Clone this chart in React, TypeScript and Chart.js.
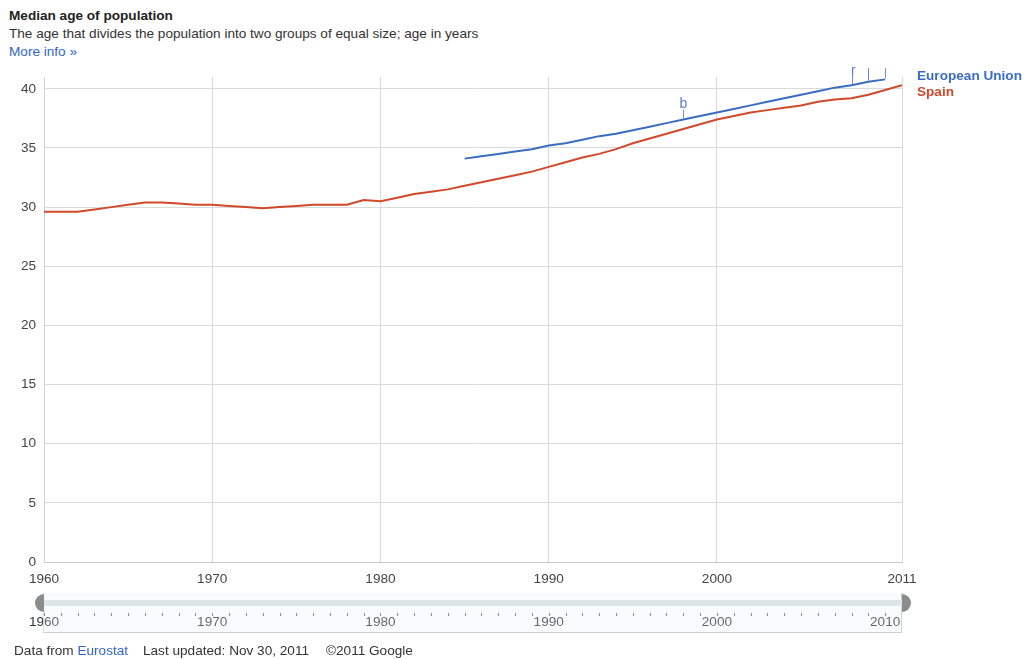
import React, { useEffect, useRef } from "react";
import { Chart, registerables } from "chart.js";

Chart.register(...registerables);

// Median age of population, in years
const spainYears = [
  1960, 1961, 1962, 1963, 1964, 1965, 1966, 1967, 1968, 1969,
  1970, 1971, 1972, 1973, 1974, 1975, 1976, 1977, 1978, 1979,
  1980, 1981, 1982, 1983, 1984, 1985, 1986, 1987, 1988, 1989,
  1990, 1991, 1992, 1993, 1994, 1995, 1996, 1997, 1998, 1999,
  2000, 2001, 2002, 2003, 2004, 2005, 2006, 2007, 2008, 2009,
  2010, 2011,
];
const spainValues = [
  29.6, 29.6, 29.6, 29.8, 30.0, 30.2, 30.4, 30.4, 30.3, 30.2,
  30.2, 30.1, 30.0, 29.9, 30.0, 30.1, 30.2, 30.2, 30.2, 30.6,
  30.5, 30.8, 31.1, 31.3, 31.5, 31.8, 32.1, 32.4, 32.7, 33.0,
  33.4, 33.8, 34.2, 34.5, 34.9, 35.4, 35.8, 36.2, 36.6, 37.0,
  37.4, 37.7, 38.0, 38.2, 38.4, 38.6, 38.9, 39.1, 39.2, 39.5,
  39.9, 40.3,
];

const euYears = [
  1985, 1986, 1987, 1988, 1989, 1990, 1991, 1992, 1993, 1994,
  1995, 1996, 1997, 1998, 1999, 2000, 2001, 2002, 2003, 2004,
  2005, 2006, 2007, 2008, 2009, 2010,
];
const euValues = [
  34.1, 34.3, 34.5, 34.7, 34.9, 35.2, 35.4, 35.7, 36.0, 36.2,
  36.5, 36.8, 37.1, 37.4, 37.7, 38.0, 38.3, 38.6, 38.9, 39.2,
  39.5, 39.8, 40.1, 40.3, 40.6, 40.8,
];

// Footnote flags on the European Union series
const flagYears = [1998, 2008, 2009, 2010];
const flagLetters = ["b", "r", "", ""];

const yTickValues = [0, 5, 10, 15, 20, 25, 30, 35, 40];
const xTickYears = [1960, 1970, 1980, 1990, 2000, 2011];
const sliderLabelYears = [1960, 1970, 1980, 1990, 2000, 2010];

const seriesNames = ["European Union", "Spain"];
const EU_COLOR = "#3a6cc1";
const ES_COLOR = "#d0492a";
const FONT = "'Liberation Sans', Arial, sans-serif";
const FS = 13.6;

const labelsPlugin = {
  id: "sideLabelsAndFlags",
  afterDatasetsDraw(chart: any) {
    const ctx = chart.ctx;
    const xs = chart.scales.x;
    const ys = chart.scales.y;
    ctx.save();

    // series names on the right of the plot
    ctx.font = `bold ${FS}px ${FONT}`;
    ctx.textBaseline = "middle";
    ctx.textAlign = "left";
    const lx = chart.chartArea.right + 15;
    ctx.fillStyle = EU_COLOR;
    ctx.fillText(seriesNames[0], lx, chart.chartArea.top - 1);
    ctx.fillStyle = ES_COLOR;
    ctx.fillText(seriesNames[1], lx, chart.chartArea.top + 15);

    // footnote flags
    ctx.beginPath();
    ctx.rect(0, chart.chartArea.top - 11, chart.width, chart.height);
    ctx.clip();
    ctx.strokeStyle = "#6d8fcf";
    ctx.fillStyle = "#5b80c6";
    ctx.lineWidth = 1;
    flagYears.forEach((yr, i) => {
      const idx = euYears.indexOf(yr);
      if (idx < 0) return;
      const px = Math.round(xs.getPixelForValue(yr)) + 0.5;
      const py = ys.getPixelForValue(euValues[idx]);
      const top = i === 0 ? py - 10 : chart.chartArea.top - 9;
      ctx.beginPath();
      ctx.moveTo(px, i === 1 ? top + 3 : top);
      ctx.lineTo(px, py - 1);
      ctx.stroke();
      const letter = flagLetters[i];
      if (letter) {
        ctx.font = `14px ${FONT}`;
        ctx.textBaseline = "alphabetic";
        if (i === 0) {
          ctx.textAlign = "center";
          ctx.fillText(letter, px, top - 2);
        } else {
          ctx.textAlign = "left";
          ctx.fillText(letter, px - 1.5, top + 7);
        }
      }
    });
    ctx.restore();
  },
};

function ChartCanvas() {
  const ref = useRef<HTMLCanvasElement | null>(null);
  useEffect(() => {
    if (!ref.current) return;
    const chart = new Chart(ref.current, {
      type: "line",
      data: {
        datasets: [
          {
            label: seriesNames[0],
            data: euYears.map((x, i) => ({ x, y: euValues[i] })),
            borderColor: EU_COLOR,
            borderWidth: 2,
            pointRadius: 0,
            tension: 0,
          },
          {
            label: seriesNames[1],
            data: spainYears.map((x, i) => ({ x, y: spainValues[i] })),
            borderColor: ES_COLOR,
            borderWidth: 2,
            pointRadius: 0,
            tension: 0,
          },
        ],
      },
      options: {
        responsive: false,
        animation: false,
        layout: { padding: { top: 77, right: 124, left: 0, bottom: 0 } },
        plugins: { legend: { display: false }, tooltip: { enabled: false } },
        scales: {
          x: {
            type: "linear",
            min: 1960,
            max: 2011,
            afterBuildTicks: (s: any) => {
              s.ticks = xTickYears.map((v) => ({ value: v }));
            },
            afterFit: (s: any) => {
              s.height = 97;
            },
            grid: { color: "#dadada", drawTicks: false },
            border: { color: "#c8c8c8" },
            ticks: {
              padding: 9,
              color: "#444",
              font: { family: FONT, size: FS },
              maxRotation: 0,
              autoSkip: false,
              callback: (v: any) => String(v),
            },
          },
          y: {
            min: 0,
            max: 41,
            afterBuildTicks: (s: any) => {
              s.ticks = yTickValues.map((v) => ({ value: v }));
            },
            afterFit: (s: any) => {
              s.width = 44;
            },
            grid: { color: "#dadada", drawTicks: false },
            border: { color: "#d0d0d0" },
            ticks: {
              padding: 8,
              color: "#444",
              font: { family: FONT, size: FS },
            },
          },
        },
      },
      plugins: [labelsPlugin],
    } as any);
    return () => chart.destroy();
  }, []);
  return (
    <canvas
      ref={ref}
      width={1026}
      height={659}
      style={{ position: "absolute", left: 0, top: 0 }}
    />
  );
}

function RangeSlider() {
  const left = 44;
  const right = 902;
  const pxPerYear = (right - left) / 51;
  const xOf = (yr: number) => left + (yr - 1960) * pxPerYear;
  const tickYears = spainYears.slice(0, spainYears.length - 1);
  return (
    <>
      {sliderLabelYears.map((yr) => (
        <div
          key={"l" + yr}
          style={{
            position: "absolute",
            left: xOf(yr) - 30,
            width: 60,
            top: 614,
            textAlign: "center",
            font: `${FS}px ${FONT}`,
            lineHeight: "16px",
            color: "#333",
          }}
        >
          {yr}
        </div>
      ))}
      {/* selected range overlay */}
      <div
        style={{
          position: "absolute",
          left: 43,
          top: 593,
          width: right - 43,
          height: 40,
          background: "rgba(232,243,250,0.28)",
          borderBottom: "1px solid #cfcfcf",
          borderRight: "1px solid #cfcfcf",
          borderLeft: "1px solid #dcdcdc",
          boxSizing: "border-box",
        }}
      />
      <div
        style={{
          position: "absolute",
          left: 44,
          top: 600,
          width: right - 44,
          height: 6,
          background: "#dfe6ea",
        }}
      />
      {tickYears.map((yr) => (
        <div
          key={"t" + yr}
          style={{
            position: "absolute",
            left: Math.round(xOf(yr)),
            top: 613,
            width: 1,
            height: 3,
            background: "#8a8a8a",
          }}
        />
      ))}
      <div
        style={{
          position: "absolute",
          left: 35,
          top: 594,
          width: 9,
          height: 18,
          background: "#8c8c8c",
          borderRadius: "9px 0 0 9px",
        }}
      />
      <div
        style={{
          position: "absolute",
          left: 902,
          top: 594,
          width: 9,
          height: 18,
          background: "#8c8c8c",
          borderRadius: "0 9px 9px 0",
        }}
      />
    </>
  );
}

export default function App() {
  const text = (top: number, left: number, style: React.CSSProperties, content: React.ReactNode) => (
    <div
      style={{
        position: "absolute",
        top,
        left,
        font: `${FS}px ${FONT}`,
        lineHeight: "16px",
        whiteSpace: "nowrap",
        ...style,
      }}
    >
      {content}
    </div>
  );
  return (
    <div
      style={{
        position: "absolute",
        left: 0,
        top: 0,
        width: 1026,
        height: 659,
        background: "#fff",
        overflow: "hidden",
      }}
    >
      {text(8, 9, { fontWeight: "bold", color: "#222" }, "Median age of population")}
      {text(26, 9, { color: "#333" }, "The age that divides the population into two groups of equal size; age in years")}
      {text(44, 9, { color: "#3366cc" }, "More info »")}
      <ChartCanvas />
      <RangeSlider />
      {text(643, 14, { color: "#333" }, (
        <>
          Data from <span style={{ color: "#3366cc" }}>Eurostat</span>
        </>
      ))}
      {text(643, 143, { color: "#333" }, "Last updated: Nov 30, 2011")}
      {text(643, 326, { color: "#333" }, "©2011 Google")}
    </div>
  );
}
